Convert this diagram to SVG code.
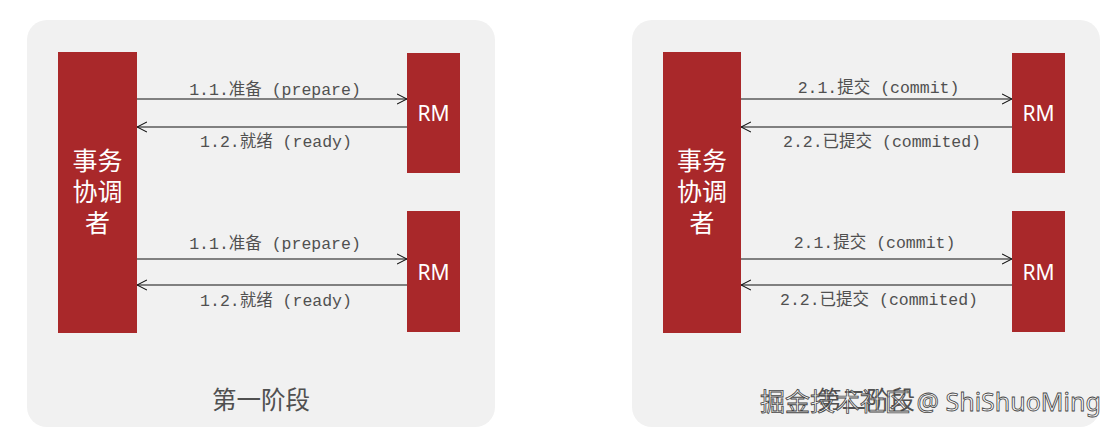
<svg xmlns="http://www.w3.org/2000/svg" width="1118" height="435" viewBox="0 0 1118 435">
<style>
.panel{fill:#f1f1f1}
.box{fill:#a9282a}
.lbl{font-family:"Liberation Mono","Noto Sans CJK SC",monospace;font-size:16.5px;fill:#505050;text-anchor:middle}
.rm{font-family:"Noto Sans","Noto Sans CJK SC",sans-serif;font-size:21px;fill:#fff;text-anchor:middle}
.tc{font-family:"Noto Sans CJK SC",sans-serif;font-size:25px;fill:#fff;text-anchor:middle}
.title{font-family:"Noto Sans CJK SC",sans-serif;font-size:24.5px;fill:#505050;text-anchor:middle}
.wm{font-family:"Noto Sans","Noto Sans CJK SC",sans-serif;font-size:25px;fill:#fff;fill-opacity:0.55;stroke:#444;stroke-width:0.8}
.ln{stroke:#111;stroke-width:1.1;fill:none}
</style>
<defs>
<marker id="ah" viewBox="0 0 10 12" refX="10" refY="6" markerWidth="10" markerHeight="12" markerUnits="userSpaceOnUse" orient="auto">
<path d="M0,1 L10,6 L0,11" fill="none" stroke="#111" stroke-width="1.1"/>
</marker>
</defs>
<rect width="1118" height="435" fill="#fff"/>
<g id="panel1">
<rect class="panel" x="27" y="20" width="468" height="407" rx="20"/>
<text class="title" x="261" y="409">第一阶段</text>
</g>
<g id="panel2">
<rect class="panel" x="632" y="20" width="468" height="407" rx="20"/>
<text class="title" x="866" y="409">第二阶段</text>
</g>
<g id="tc1">
<rect class="box" x="58" y="52" width="79" height="281"/>
<text class="tc" x="97.5" y="170">事务</text>
<text class="tc" x="97.5" y="201">协调</text>
<text class="tc" x="97.5" y="232">者</text>
</g>
<g id="rm1a">
<rect class="box" x="407" y="53" width="53" height="120"/>
<text class="rm" x="433.5" y="121">RM</text>
</g>
<g id="rm1b">
<rect class="box" x="407" y="211" width="53" height="121"/>
<text class="rm" x="433.5" y="280">RM</text>
</g>
<g id="tc2">
<rect class="box" x="663" y="52" width="78" height="281"/>
<text class="tc" x="702" y="170">事务</text>
<text class="tc" x="702" y="201">协调</text>
<text class="tc" x="702" y="232">者</text>
</g>
<g id="rm2a">
<rect class="box" x="1012" y="53" width="53" height="120"/>
<text class="rm" x="1038.5" y="121">RM</text>
</g>
<g id="rm2b">
<rect class="box" x="1012" y="211" width="53" height="121"/>
<text class="rm" x="1038.5" y="280">RM</text>
</g>
<g id="connectors">
<line class="ln" x1="137" y1="99" x2="407" y2="99" marker-end="url(#ah)"/>
<line class="ln" x1="407" y1="127" x2="137" y2="127" marker-end="url(#ah)"/>
<line class="ln" x1="137" y1="259" x2="407" y2="259" marker-end="url(#ah)"/>
<line class="ln" x1="407" y1="285" x2="137" y2="285" marker-end="url(#ah)"/>
<line class="ln" x1="741" y1="99" x2="1012" y2="99" marker-end="url(#ah)"/>
<line class="ln" x1="1012" y1="127" x2="741" y2="127" marker-end="url(#ah)"/>
<line class="ln" x1="741" y1="259" x2="1012" y2="259" marker-end="url(#ah)"/>
<line class="ln" x1="1012" y1="285" x2="741" y2="285" marker-end="url(#ah)"/>
<text class="lbl" x="275" y="95">1.1.准备 (prepare)</text>
<text class="lbl" x="276" y="147">1.2.就绪 (ready)</text>
<text class="lbl" x="275" y="249">1.1.准备 (prepare)</text>
<text class="lbl" x="276" y="306">1.2.就绪 (ready)</text>
<text class="lbl" x="878.5" y="93">2.1.提交 (commit)</text>
<text class="lbl" x="882" y="147">2.2.已提交 (commited)</text>
<text class="lbl" x="874.5" y="248">2.1.提交 (commit)</text>
<text class="lbl" x="879" y="305">2.2.已提交 (commited)</text>
</g>
<text class="wm" x="760" y="411">掘金技术社区 @ ShiShuoMing</text>
</svg>
